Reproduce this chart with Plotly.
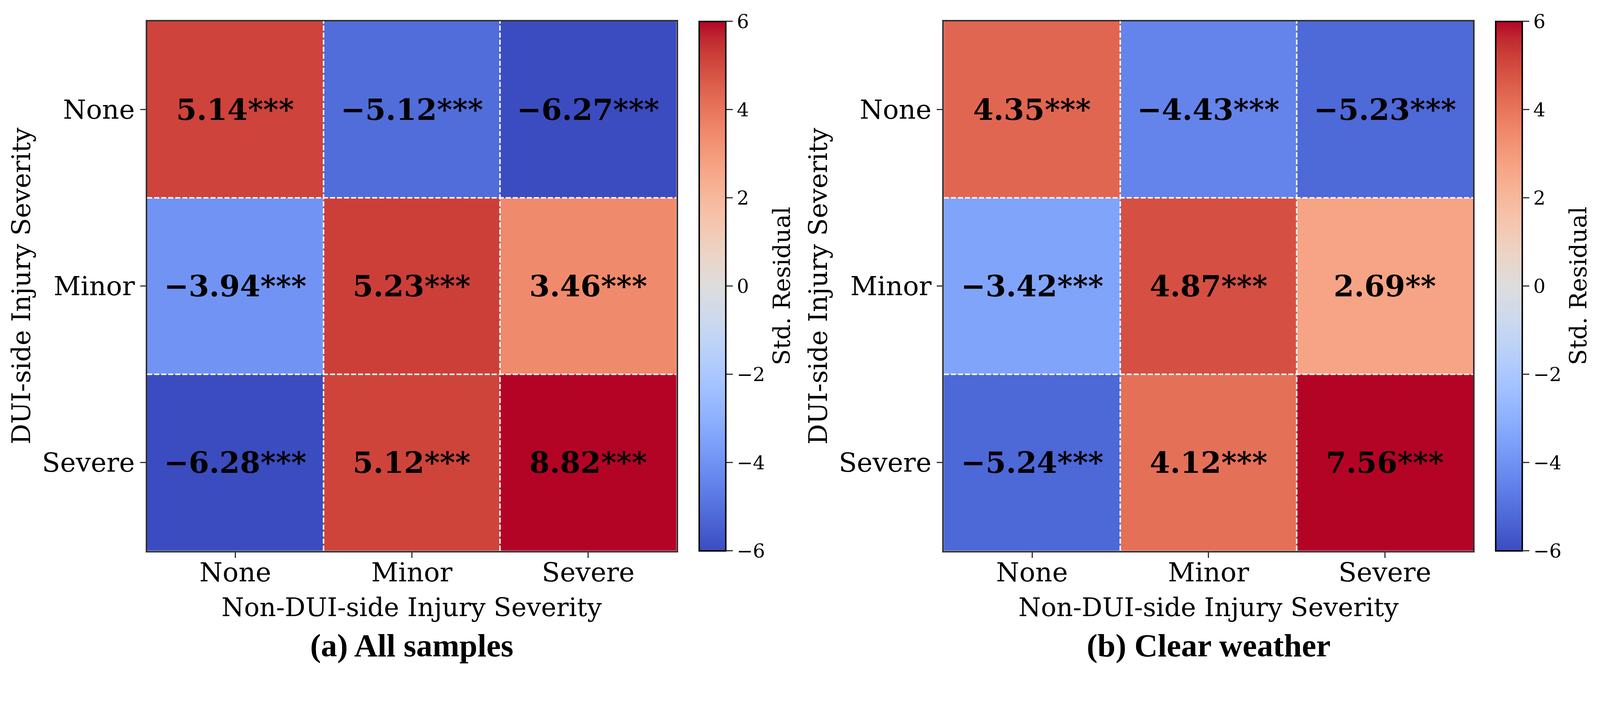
"""
Standardized residual heatmaps: DUI-side vs non-DUI-side injury severity
(a) all samples, (b) clear weather.
"""

import plotly.graph_objects as go

# Data
severity = ['None', 'Minor', 'Severe']

all_samples = [
    [5.14, -5.12, -6.27],
    [-3.94, 5.23, 3.46],
    [-6.28, 5.12, 8.82],
]
all_samples_sig = [
    ['***', '***', '***'],
    ['***', '***', '***'],
    ['***', '***', '***'],
]

clear_weather = [
    [4.35, -4.43, -5.23],
    [-3.42, 4.87, 2.69],
    [-5.24, 4.12, 7.56],
]
clear_weather_sig = [
    ['***', '***', '***'],
    ['***', '***', '**'],
    ['***', '***', '***'],
]

panel_titles = ['(a) All samples', '(b) Clear weather']
cbar_ticks = [-6, -4, -2, 0, 2, 4, 6]
cbar_ticktext = [str(t).replace('-', '\u2212') for t in cbar_ticks]

# matplotlib "coolwarm" (Moreland diverging map)
coolwarm_rgb = [
    (59, 76, 192), (68, 90, 204), (77, 104, 215), (87, 117, 225),
    (98, 130, 234), (108, 142, 241), (119, 154, 247), (130, 165, 251),
    (141, 176, 254), (152, 185, 255), (163, 194, 255), (174, 201, 253),
    (184, 208, 249), (194, 213, 244), (204, 217, 238), (213, 219, 230),
    (221, 221, 221), (229, 216, 209), (236, 211, 197), (241, 204, 185),
    (245, 196, 173), (247, 187, 160), (247, 177, 148), (247, 166, 135),
    (244, 154, 123), (241, 141, 111), (236, 127, 99), (229, 112, 88),
    (222, 96, 77), (213, 80, 66), (203, 62, 56), (192, 40, 47),
    (180, 4, 38),
]
coolwarm = [[i / (len(coolwarm_rgb) - 1), f'rgb{c}'] for i, c in enumerate(coolwarm_rgb)]

# Layout: positions are given in screenshot pixels (4353 x 1821) and
# converted to page pixels (the page renders ~6% larger than CSS px,
# plus the default 8px body margin).
SHOT_W, SHOT_H = 4353, 1821
K = 1.062
PAGE_MARGIN = 8
W = int(SHOT_W / K) - 2 * PAGE_MARGIN
H = int(SHOT_H / K) - 2 * PAGE_MARGIN

SERIF = 'DejaVu Serif'
TIMES = 'Liberation Serif'
BORDER = '#333333'

panels = [
    dict(z=all_samples, sig=all_samples_sig, left=400, cbar_left=1901),
    dict(z=clear_weather, sig=clear_weather_sig, left=2566, cbar_left=4066),
]
TOP, BOTTOM, SIDE = 58, 1498, 1439
CBAR_W = 72


def s(v):
    """screenshot px -> css px (sizes)"""
    return v / K


def px_x(v):
    return (v / K - PAGE_MARGIN) / W


def px_y(v):
    return 1 - (v / K - PAGE_MARGIN) / H


fig = go.Figure()
annotations = []
shapes = []

for i, p in enumerate(panels):
    n = str(i + 1) if i else ''
    xa, ya = 'x' + n, 'y' + n

    fig.add_trace(go.Heatmap(
        z=p['z'],
        x=severity,
        y=severity,
        xaxis=xa,
        yaxis=ya,
        colorscale=coolwarm,
        zmin=-6,
        zmax=6,
        hoverinfo='skip',
        colorbar=dict(
            x=px_x(p['cbar_left']),
            xanchor='left',
            xpad=0,
            y=px_y((TOP + BOTTOM) / 2),
            yanchor='middle',
            ypad=0,
            len=px_y(TOP) - px_y(BOTTOM),
            lenmode='fraction',
            thickness=s(CBAR_W),
            thicknessmode='pixels',
            outlinewidth=s(4),
            outlinecolor='black',
            ticks='outside',
            ticklen=s(18),
            tickwidth=s(3),
            tickcolor=BORDER,
            tickvals=cbar_ticks,
            ticktext=cbar_ticktext,
            tickfont=dict(family=SERIF, size=s(52), color='black'),
        ),
    ))

    axis_common = dict(
        showline=True,
        mirror=True,
        linecolor=BORDER,
        linewidth=s(4),
        ticks='outside',
        ticklen=s(15),
        tickwidth=s(3),
        tickcolor=BORDER,
        tickfont=dict(family=SERIF, size=s(72), color='black'),
        showgrid=False,
        zeroline=False,
        fixedrange=True,
    )
    fig.update_layout({
        ('xaxis' + n): dict(
            domain=[px_x(p['left']), px_x(p['left'] + SIDE)],
            anchor=ya,
            ticklabelstandoff=int(round(-s(22))),
            **axis_common,
        ),
        ('yaxis' + n): dict(
            domain=[px_y(BOTTOM), px_y(TOP)],
            anchor=xa,
            autorange='reversed',
            **axis_common,
        ),
    })

    # cell labels
    for r, row in enumerate(p['z']):
        for c, val in enumerate(row):
            txt = f'{val:.2f}'.replace('-', '\u2212') + p['sig'][r][c]
            annotations.append(dict(
                x=severity[c], y=severity[r], xref=xa, yref=ya,
                text=f'<b>{txt}</b>', showarrow=False,
                font=dict(family=SERIF, size=s(80), color='black'),
            ))

    # white dashed cell separators
    for k in range(1, len(severity)):
        shapes.append(dict(
            type='line', xref=xa, yref=ya + ' domain',
            x0=k - 0.5, x1=k - 0.5, y0=0, y1=1,
            line=dict(color='white', width=s(4), dash='13px,5px'),
        ))
        shapes.append(dict(
            type='line', xref=xa + ' domain', yref=ya,
            x0=0, x1=1, y0=k - 0.5, y1=k - 0.5,
            line=dict(color='white', width=s(4), dash='13px,5px'),
        ))

    cx = px_x(p['left'] + SIDE / 2)
    # axis titles
    annotations.append(dict(
        x=cx, y=px_y(1652), xref='paper', yref='paper',
        text='Non-DUI-side Injury Severity', showarrow=False,
        font=dict(family=SERIF, size=s(70), color='black'),
        xanchor='center', yanchor='middle',
    ))
    annotations.append(dict(
        x=px_x(p['left'] - 342), y=px_y((TOP + BOTTOM) / 2), xref='paper', yref='paper',
        text='DUI-side Injury Severity', showarrow=False, textangle=-90,
        font=dict(family=SERIF, size=s(70), color='black'),
        xanchor='center', yanchor='middle',
    ))
    # colorbar label
    annotations.append(dict(
        x=px_x(p['cbar_left'] + 224), y=px_y((TOP + BOTTOM) / 2), xref='paper', yref='paper',
        text='Std. Residual', showarrow=False, textangle=-90,
        font=dict(family=SERIF, size=s(64), color='black'),
        xanchor='center', yanchor='middle',
    ))
    # panel caption
    annotations.append(dict(
        x=cx, y=px_y(1755), xref='paper', yref='paper',
        text=f'<b>{panel_titles[i]}</b>', showarrow=False,
        font=dict(family=TIMES, size=s(88), color='black'),
        xanchor='center', yanchor='middle',
    ))

fig.update_layout(
    width=W,
    height=H,
    margin=dict(l=0, r=0, t=0, b=0),
    paper_bgcolor='white',
    plot_bgcolor='white',
    showlegend=False,
    annotations=annotations,
    shapes=shapes,
)

fig.write_html("out.html")
